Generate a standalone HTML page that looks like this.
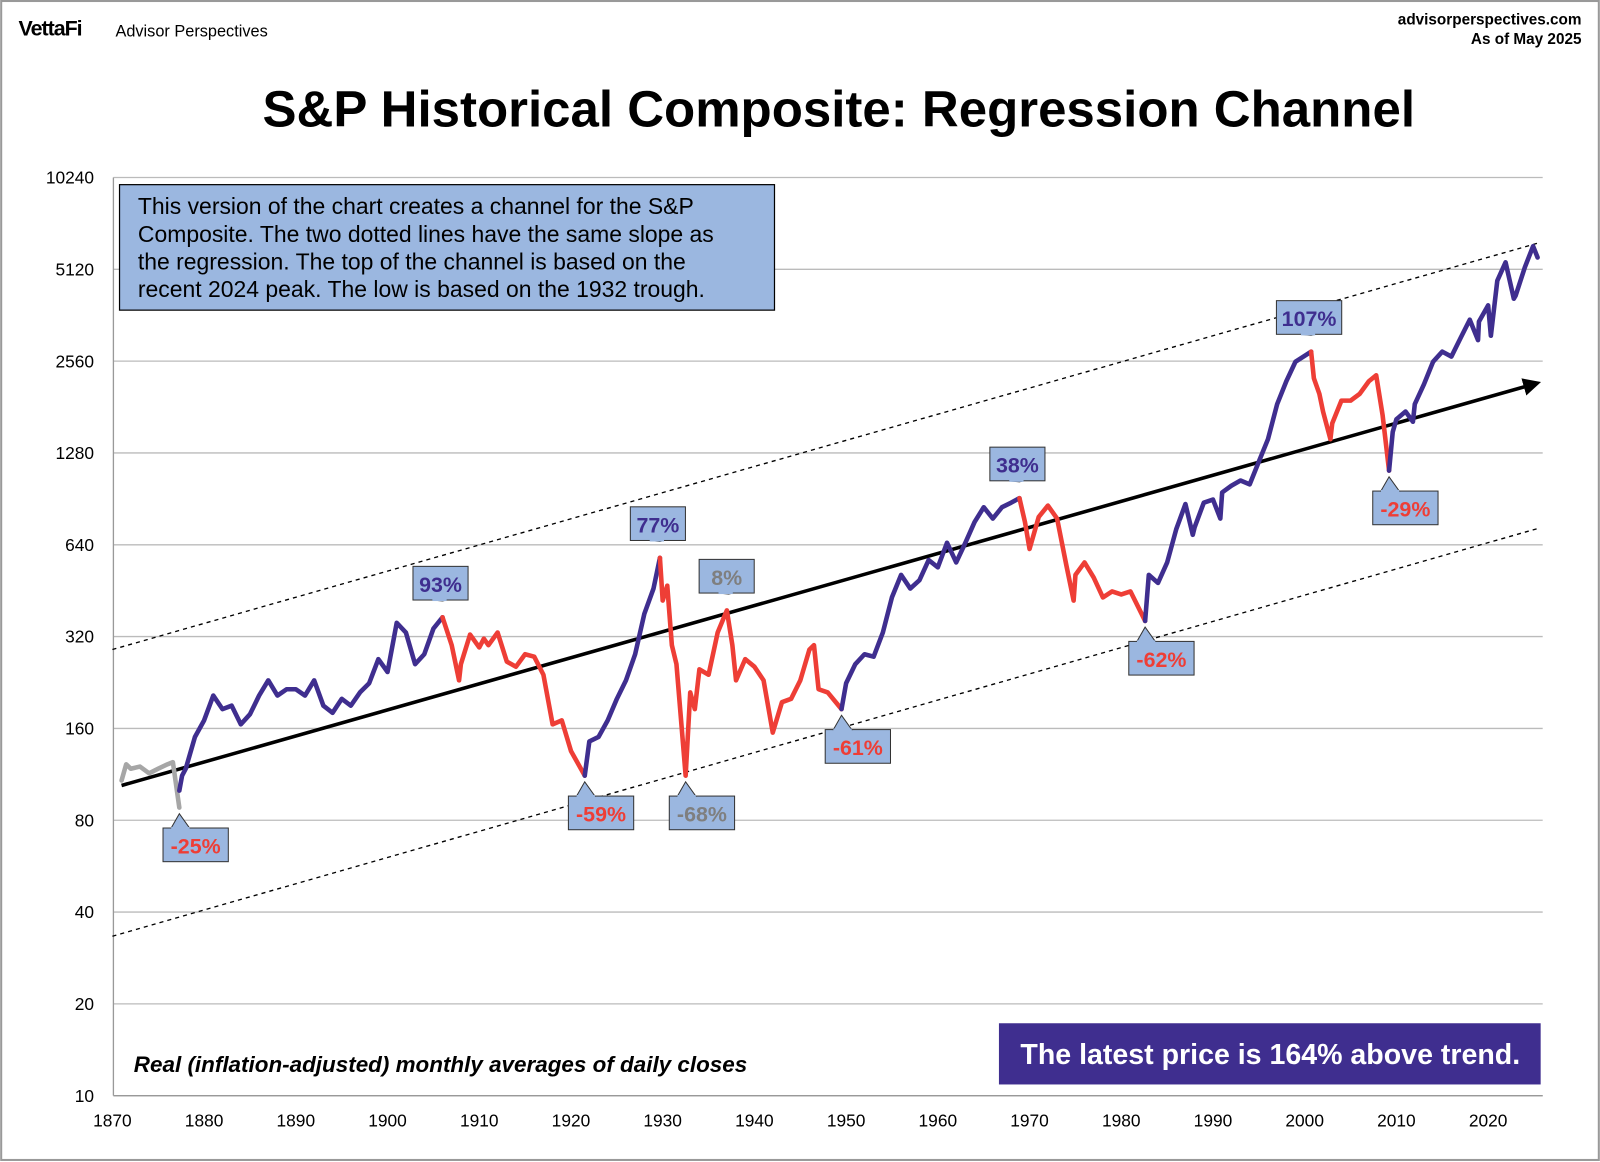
<!DOCTYPE html>
<html><head><meta charset="utf-8">
<style>
body{margin:0;background:#fff;}
#wrap{position:relative;width:1600px;height:1162px;overflow:hidden;}
svg text{font-family:"Liberation Sans",sans-serif;}
</style></head>
<body>
<div id="wrap">
<svg id="chart" width="1600" height="1162" viewBox="0 0 1568 1139">
<rect x="1" y="1" width="1566" height="1136" fill="#fff" stroke="#999" stroke-width="2"/>
<text x="18" y="35" font-size="21" font-weight="bold" letter-spacing="-1">VettaFi</text>
<text x="113" y="36" font-size="16">Advisor Perspectives</text>
<text x="1550" y="24" font-size="15" font-weight="bold" text-anchor="end">advisorperspectives.com</text>
<text x="1550" y="43" font-size="15" font-weight="bold" text-anchor="end">As of May 2025</text>
<text x="822" y="124" font-size="50" font-weight="bold" text-anchor="middle">S&amp;P Historical Composite: Regression Channel</text>
<g id="grid"></g>
<g id="chan"></g>
<g id="series"></g>
<g id="callouts"></g>
<rect x="117" y="181" width="642" height="123" fill="#9bb7e0" stroke="#000" stroke-width="1.2"/>
<text font-size="22.5">
<tspan x="135" y="210">This version of the chart creates a channel for the S&amp;P</tspan>
<tspan x="135" y="237">Composite. The two dotted lines have the same slope as</tspan>
<tspan x="135" y="264">the regression. The top of the channel is based on the</tspan>
<tspan x="135" y="291">recent 2024 peak. The low is based on the 1932 trough.</tspan>
</text>
<text x="131" y="1051" font-size="22" font-weight="bold" font-style="italic">Real (inflation-adjusted) monthly averages of daily closes</text>
<rect x="979" y="1003" width="531" height="60" fill="#3f2e8f"/>
<text x="1245" y="1043" font-size="28" font-weight="bold" fill="#fff" text-anchor="middle">The latest price is 164% above trend.</text>
</svg>
</div>
<script>
const yTicks=[10,20,40,80,160,320,640,1280,2560,5120,10240];
const xTicks=[1870,1880,1890,1900,1910,1920,1930,1940,1950,1960,1970,1980,1990,2000,2010,2020];
const grayYears=[1871,1871.5,1872,1873,1874,1875,1876,1876.6,1877.3];
const grayVals=[108,122,118,120,114,118,122,124,88];
const bull1Years=[1877.3,1877.6,1878,1879,1880,1881,1882,1883,1884,1885,1886,1887,1888,1889,1890,1891,1892,1893,1894,1895,1896,1897,1898,1899,1900,1901,1902,1903,1904,1905,1906];
const bull1Vals=[100,112,118,150,170,205,185,190,165,178,205,230,205,215,215,205,230,190,180,200,190,210,225,270,245,355,330,260,280,340,370];
const bear1Years=[1906,1907,1907.8,1908,1909,1910,1910.5,1911,1912,1913,1914,1915,1916,1917,1918,1919,1920,1921.5];
const bear1Vals=[370,300,230,260,325,295,315,300,330,265,255,280,275,240,165,170,135,112];
const bull2Years=[1921.5,1922,1923,1924,1925,1926,1927,1928,1929,1929.7];
const bull2Vals=[112,145,150,170,200,230,280,380,460,580];
const bear2Years=[1929.7,1930,1930.5,1931,1931.5,1932.5,1933,1933.5,1934,1935,1936,1937,1937.6,1938,1939,1940,1941,1942,1943,1944,1945,1946,1946.5,1947,1948,1949.5];
const bear2Vals=[580,420,470,300,260,112,210,185,250,240,330,390,300,230,270,255,230,155,195,200,230,290,300,215,210,185];
const bull3Years=[1949.5,1950,1951,1952,1953,1954,1955,1956,1957,1958,1959,1960,1961,1962,1963,1964,1965,1966,1967,1968,1968.9];
const bull3Vals=[185,225,260,280,275,330,430,510,460,490,570,540,650,560,650,760,850,780,850,880,910];
const bear3Years=[1968.9,1969.5,1970,1971,1972,1973,1974,1974.8,1975,1976,1977,1978,1979,1980,1981,1982.6];
const bear3Vals=[910,760,620,790,860,780,550,420,510,560,500,430,450,440,450,360];
const bull4Years=[1982.6,1983,1984,1985,1986,1987,1987.8,1988,1989,1990,1990.8,1991,1992,1993,1994,1995,1996,1997,1998,1999,2000.7];
const bull4Vals=[360,510,480,560,720,870,690,730,880,900,780,950,1000,1040,1010,1200,1420,1850,2200,2550,2750];
const bear4Years=[2000.7,2001,2001.6,2002,2002.8,2003,2004,2005,2006,2007,2007.8,2008.5,2009.2];
const bear4Vals=[2750,2250,2000,1750,1420,1600,1900,1900,2000,2200,2300,1700,1120];
const bull5Years=[2009.2,2009.6,2010,2011,2011.8,2012,2013,2014,2015,2016,2017,2018,2018.9,2019,2020,2020.3,2021,2021.9,2022.8,2023,2024,2024.9,2025.4];
const bull5Vals=[1120,1500,1650,1750,1620,1850,2150,2550,2750,2650,3050,3500,3000,3450,3900,3100,4700,5400,4100,4200,5200,6100,5600];
const trendYears=[1871,2025.5];
const trendVals=[104,2180];
const upperVals=[296,6250];
const lowerVals=[34,725];
const calloutLabels=["-25%","93%","-59%","77%","-68%","8%","-61%","38%","-62%","107%","-29%"];
const calloutYears=[1877.3,1906,1921.5,1929.7,1932.5,1937.2,1949.5,1968.9,1982.6,2000.7,2009.2];
const calloutVals=[88,370,112,580,112,390,185,910,360,2750,1120];

const NS="http://www.w3.org/2000/svg";
const X0=110,PXY=8.99,Y10=1074,PXD=90;
function xs(yr){return X0+(yr-1870)*PXY;}
function ys(v){return Y10-Math.log2(v/10)*PXD;}
function mk(tag,attrs,parent){const e=document.createElementNS(NS,tag);for(const k in attrs)e.setAttribute(k,attrs[k]);parent.appendChild(e);return e;}
const grid=document.getElementById('grid');
yTicks.forEach(v=>{
  const l=mk('line',{x1:111,x2:1512,y1:ys(v),y2:ys(v),stroke:'#bbb','stroke-width':1.3},grid);
  
  
  const t=mk('text',{x:92,y:ys(v)+6,'font-size':17,'text-anchor':'end'},grid);
  t.textContent=v;
  
  
});
const ax=mk('line',{x1:111,x2:111,y1:174,y2:1074,stroke:'#999','stroke-width':1.3},grid);


const ax2=mk('line',{x1:111,x2:1512,y1:1074,y2:1074,stroke:'#999','stroke-width':1.3},grid);


xTicks.forEach(yr=>{
  const t=mk('text',{x:xs(yr),y:1104,'font-size':17,'text-anchor':'middle'},grid);
  t.textContent=yr;
  
  
});
const chan=document.getElementById('chan');
function chanLine(vals,name){
  const s=(Math.log2(vals[1])-Math.log2(vals[0]))/(trendYears[1]-trendYears[0]);
  const v0=vals[0]*Math.pow(2,(1870-trendYears[0])*s);
  const l=mk('line',{x1:xs(1870),y1:ys(v0),x2:xs(trendYears[1]),y2:ys(vals[1]),stroke:'#000','stroke-width':1.3,'stroke-dasharray':'4,4'},chan);
  
  
}
chanLine(upperVals,'upper-channel-line');
chanLine(lowerVals,'lower-channel-line');
mk('defs',{},chan).innerHTML='<marker id="arr" markerWidth="5" markerHeight="5" refX="2.5" refY="2.5" orient="auto"><path d="M0,0 L5,2.5 L0,5z" fill="#000"/></marker>';
const tl=mk('line',{x1:xs(trendYears[0]),y1:ys(trendVals[0]),x2:xs(trendYears[1])-6,y2:ys(trendVals[1])+2,stroke:'#000','stroke-width':3.5,'marker-end':'url(#arr)'},chan);


const ser=document.getElementById('series');
const segs=[[grayYears,grayVals,'#a6a6a6','gray-segment'],[bull1Years,bull1Vals,'#3f2e8f','bull-segment'],[bear1Years,bear1Vals,'#ee3e36','bear-segment'],[bull2Years,bull2Vals,'#3f2e8f','bull-segment'],[bear2Years,bear2Vals,'#ee3e36','bear-segment'],[bull3Years,bull3Vals,'#3f2e8f','bull-segment'],[bear3Years,bear3Vals,'#ee3e36','bear-segment'],[bull4Years,bull4Vals,'#3f2e8f','bull-segment'],[bear4Years,bear4Vals,'#ee3e36','bear-segment'],[bull5Years,bull5Vals,'#3f2e8f','bull-segment']];
segs.forEach(s=>{
  const pts=s[0].map((yr,i)=>xs(yr).toFixed(1)+','+ys(s[1][i]).toFixed(1)).join(' ');
  const p=mk('polyline',{points:pts,fill:'none',stroke:s[2],'stroke-width':4.5,'stroke-linejoin':'round','stroke-linecap':'round'},ser);
  
  
});
const cg=document.getElementById('callouts');
calloutLabels.forEach((lab,i)=>{
  const px=xs(calloutYears[i]),py=ys(calloutVals[i]);
  const up=!lab.startsWith('-');
  const gray=(lab==='8%'||lab==='-68%');
  const col=gray?'#7f7f7f':(up?'#3f2e8f':'#ee3e36');
  const w=lab.length>3?64:54,h=33;
  let bx,by,tri;
  if(up){by=py-50;tri=`${px-10},${by+h} ${px},${py-16} ${px+4},${by+h}`;bx=px-w/2-2;}
  else{by=py+20;bx=px-16;tri=`${px-8},${by} ${px},${py+6} ${px+10},${by}`;}
  const g=mk('g',{},cg);
  
  
  mk('rect',{x:bx,y:by,width:w,height:h,fill:'#9bb7e0',stroke:'#333','stroke-width':1},g);
  mk('polygon',{points:tri,fill:'#9bb7e0',stroke:'#333','stroke-width':1},g);
  mk('line',{x1:tri.split(' ')[0].split(',')[0],y1:up?by+h:by,x2:tri.split(' ')[2].split(',')[0],y2:up?by+h:by,stroke:'#9bb7e0','stroke-width':2},g);
  const t=mk('text',{x:bx+w/2,y:by+25,'font-size':21,'font-weight':'bold','text-anchor':'middle',fill:col},g);
  t.textContent=lab;
});
</script>
</body></html>
